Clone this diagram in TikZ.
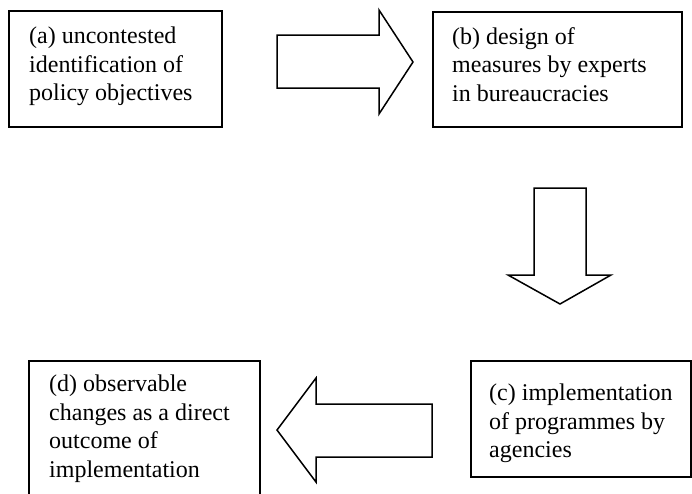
\documentclass[tikz,border=0pt]{standalone}
\usepackage{fontspec}
\setmainfont{Liberation Serif}
\begin{document}
\begin{tikzpicture}[x=1pt,y=-1pt,
  boxstyle/.style={draw=black,line width=1.6pt,fill=none,rectangle,inner sep=0pt,anchor=north west},
  txt/.style={anchor=north west,inner sep=0pt,align=left,font=\fontsize{24}{28.5}\selectfont},
  blockarrow/.style={draw=black,line width=1.5pt,line join=miter,fill=white}]
\useasboundingbox (0,0) rectangle (692,493);
% boxes
\node[boxstyle,minimum width=213pt,minimum height=116pt] (a) at (8,10) {};
\node[boxstyle,minimum width=249pt,minimum height=115pt] (b) at (432,11) {};
\node[boxstyle,minimum width=220pt,minimum height=116pt] (c) at (470,360) {};
\node[boxstyle,minimum width=231pt,minimum height=145pt] (d) at (28,360) {};
% texts
\node[txt] (ta) at ([shift={(21,17)}]a.north west) {(a) uncontested\\identification of\\policy objectives};
\node[txt] (tb) at ([shift={(20,16)}]b.north west) {(b) design of\\measures by experts\\in bureaucracies};
\node[txt] (tc) at ([shift={(19,24)}]c.north west) {(c) implementation\\of programmes by\\agencies};
\node[txt] (td) at ([shift={(21,15)}]d.north west) {(d) observable\\changes as a direct\\outcome of\\implementation};
% block arrows
\draw[blockarrow] (277,35) -- (379,35) -- (379,10) -- (413,62) -- (379,114) -- (379,88) -- (277,88) -- cycle;
\draw[blockarrow] (534,188) -- (586,188) -- (586,275) -- (611,275) -- (560,304) -- (508,275) -- (534,275) -- cycle;
\draw[blockarrow] (432,404) -- (316,404) -- (316,378) -- (277,430) -- (316,482) -- (316,457) -- (432,457) -- cycle;
\end{tikzpicture}
\end{document}
